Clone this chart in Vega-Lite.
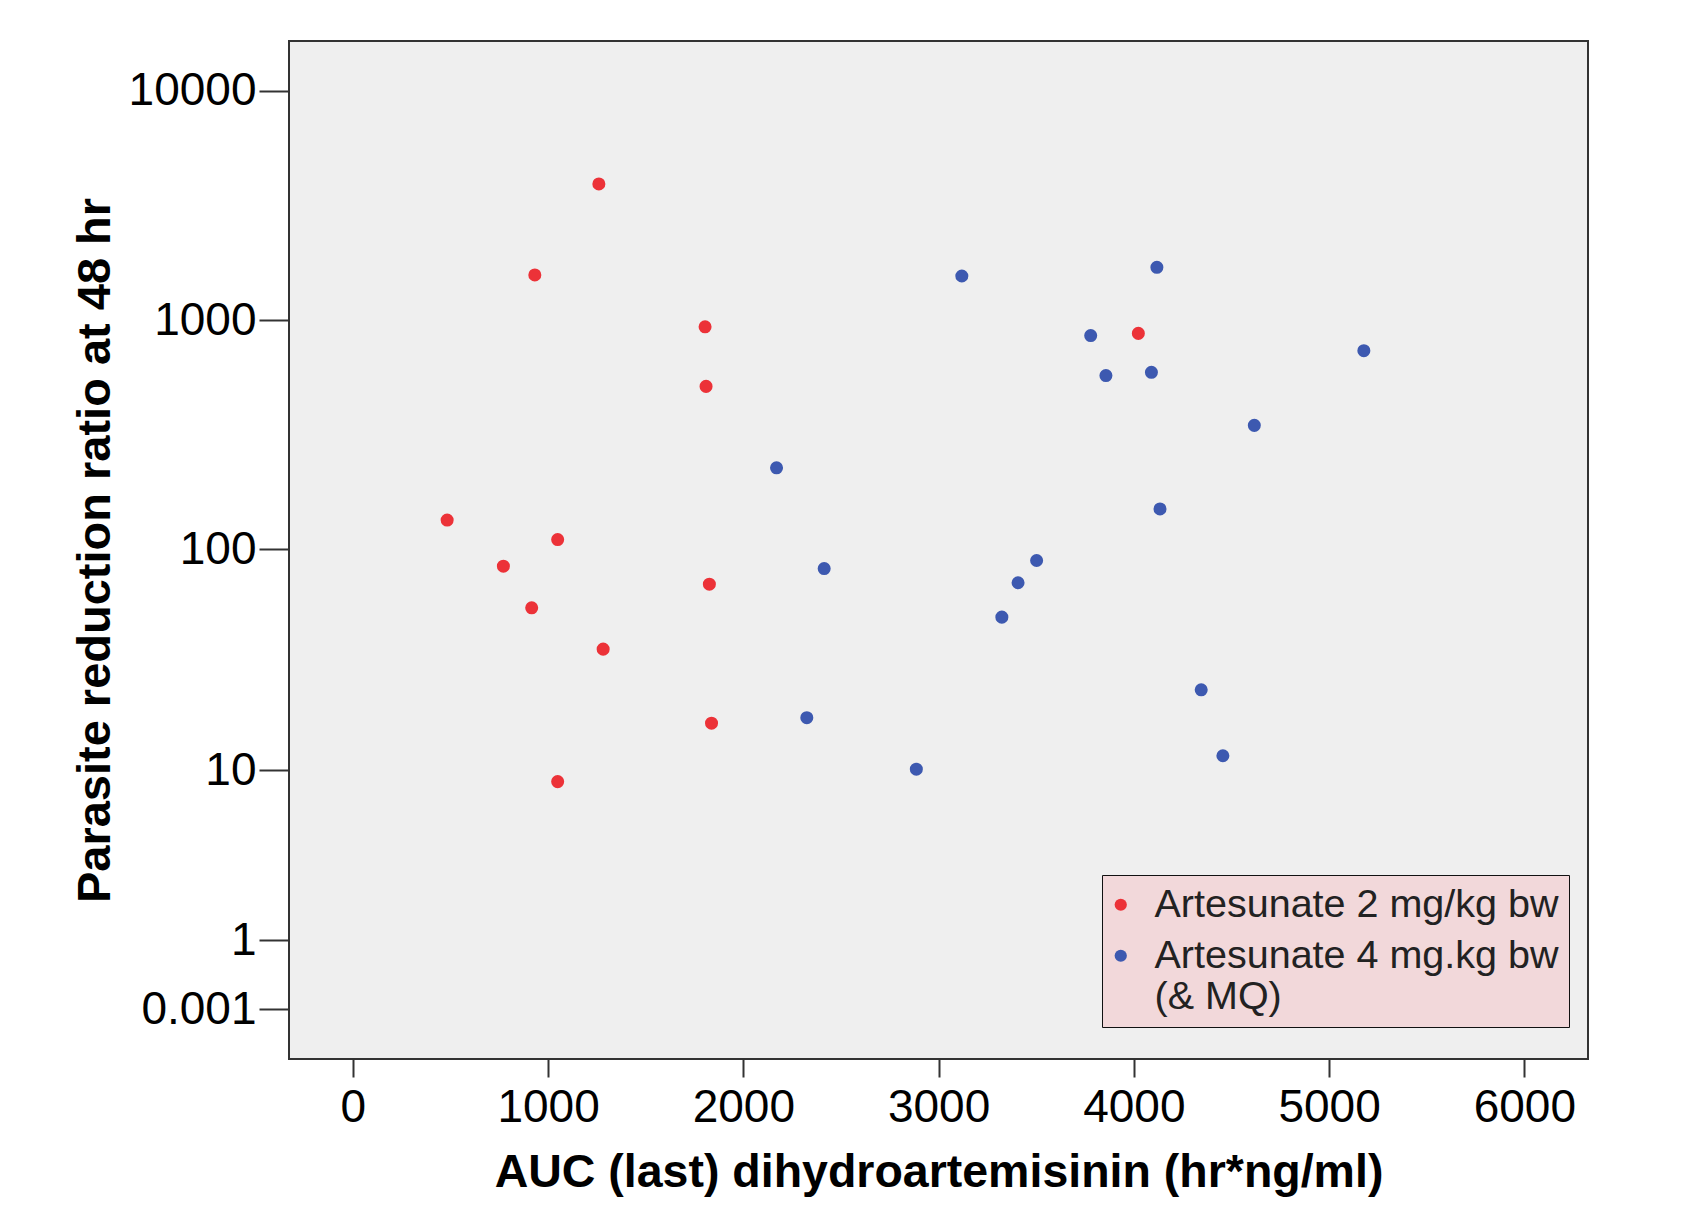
{
  "$schema": "https://vega.github.io/schema/vega-lite/v6.json",
  "width": 1299,
  "height": 1018,
  "autosize": {"type": "none"},
  "padding": {"left": 289, "top": 41, "right": 110, "bottom": 164},
  "background": "white",
  "config": {
    "view": {"fill": "#efefef", "stroke": "#333333", "strokeWidth": 2},
    "font": "Liberation Sans"
  },
  "data": {
    "values": [
      {"auc": 1260, "prr": 3930, "group": "Artesunate 2 mg/kg bw"},
      {"auc": 932, "prr": 1577, "group": "Artesunate 2 mg/kg bw"},
      {"auc": 1804, "prr": 937, "group": "Artesunate 2 mg/kg bw"},
      {"auc": 1809, "prr": 515, "group": "Artesunate 2 mg/kg bw"},
      {"auc": 483, "prr": 134, "group": "Artesunate 2 mg/kg bw"},
      {"auc": 1049, "prr": 110, "group": "Artesunate 2 mg/kg bw"},
      {"auc": 771, "prr": 84, "group": "Artesunate 2 mg/kg bw"},
      {"auc": 1826, "prr": 70, "group": "Artesunate 2 mg/kg bw"},
      {"auc": 916, "prr": 55, "group": "Artesunate 2 mg/kg bw"},
      {"auc": 1282, "prr": 36, "group": "Artesunate 2 mg/kg bw"},
      {"auc": 1837, "prr": 16.6, "group": "Artesunate 2 mg/kg bw"},
      {"auc": 1049, "prr": 8.8, "group": "Artesunate 2 mg/kg bw"},
      {"auc": 4023, "prr": 877, "group": "Artesunate 2 mg/kg bw"},
      {"auc": 3119, "prr": 1560, "group": "Artesunate 4 mg.kg bw (& MQ)"},
      {"auc": 4118, "prr": 1702, "group": "Artesunate 4 mg.kg bw (& MQ)"},
      {"auc": 3779, "prr": 858, "group": "Artesunate 4 mg.kg bw (& MQ)"},
      {"auc": 3857, "prr": 574, "group": "Artesunate 4 mg.kg bw (& MQ)"},
      {"auc": 4090, "prr": 593, "group": "Artesunate 4 mg.kg bw (& MQ)"},
      {"auc": 5178, "prr": 737, "group": "Artesunate 4 mg.kg bw (& MQ)"},
      {"auc": 4617, "prr": 348, "group": "Artesunate 4 mg.kg bw (& MQ)"},
      {"auc": 2170, "prr": 227, "group": "Artesunate 4 mg.kg bw (& MQ)"},
      {"auc": 4134, "prr": 150, "group": "Artesunate 4 mg.kg bw (& MQ)"},
      {"auc": 2414, "prr": 82, "group": "Artesunate 4 mg.kg bw (& MQ)"},
      {"auc": 3502, "prr": 89, "group": "Artesunate 4 mg.kg bw (& MQ)"},
      {"auc": 3407, "prr": 71, "group": "Artesunate 4 mg.kg bw (& MQ)"},
      {"auc": 3324, "prr": 50, "group": "Artesunate 4 mg.kg bw (& MQ)"},
      {"auc": 4345, "prr": 23.6, "group": "Artesunate 4 mg.kg bw (& MQ)"},
      {"auc": 2325, "prr": 17.6, "group": "Artesunate 4 mg.kg bw (& MQ)"},
      {"auc": 2886, "prr": 10.1, "group": "Artesunate 4 mg.kg bw (& MQ)"},
      {"auc": 4456, "prr": 11.7, "group": "Artesunate 4 mg.kg bw (& MQ)"}
    ]
  },
  "mark": {"type": "point", "filled": true, "shape": "circle", "size": 170, "opacity": 1},
  "encoding": {
    "x": {
      "field": "auc",
      "type": "quantitative",
      "scale": {"domain": [-327, 6326], "nice": false, "zero": false},
      "axis": {
        "title": "AUC (last) dihydroartemisinin (hr*ng/ml)",
        "values": [0, 1000, 2000, 3000, 4000, 5000, 6000],
        "format": "d",
        "grid": false,
        "domain": false,
        "tickSize": 18,
        "tickWidth": 2,
        "tickColor": "#333333",
        "labelFontSize": 46,
        "labelColor": "#000000",
        "labelPadding": 8,
        "titleFontSize": 46.5,
        "titleFontWeight": "bold",
        "titleColor": "#000000",
        "titlePadding": 19
      }
    },
    "y": {
      "field": "prr",
      "type": "quantitative",
      "scale": {"type": "symlog", "constant": 1, "domain": [-0.648, 16480], "nice": false, "zero": false},
      "axis": {
        "title": "Parasite reduction ratio at 48 hr",
        "values": [0.001, 1, 10, 100, 1000, 10000],
        "format": "~r",
        "grid": false,
        "domain": false,
        "tickSize": 30,
        "tickWidth": 2,
        "tickColor": "#333333",
        "labelFontSize": 46,
        "labelColor": "#000000",
        "labelPadding": 3,
        "titleFontSize": 47,
        "titleFontWeight": "bold",
        "titleColor": "#000000",
        "titlePadding": 9
      }
    },
    "color": {
      "field": "group",
      "type": "nominal",
      "scale": {"domain": ["Artesunate 2 mg/kg bw", "Artesunate 4 mg.kg bw (& MQ)"], "range": ["#ec3238", "#3d59b0"]},
      "legend": {
        "title": null,
        "orient": "none",
        "legendX": 813,
        "legendY": 834,
        "fillColor": "#f2d8da",
        "strokeColor": "#111111",
        "padding": 10,
        "symbolType": "circle",
        "symbolSize": 150,
        "symbolOffset": -11,
        "labelOffset": 14,
        "labelFontSize": 39.5,
        "labelColor": "#222222",
        "labelLimit": 600,
        "rowPadding": 10,
        "labelExpr": "datum.value == 'Artesunate 4 mg.kg bw (& MQ)' ? ['Artesunate 4 mg.kg bw', '(& MQ)'] : datum.label",
        "encode": {
          "legend": {"strokeWidth": {"value": 2}},
          "labels": {"dy": {"condition": {"test": "datum.value === 'Artesunate 4 mg.kg bw (& MQ)'", "value": -20}, "value": 0}}
        }
      }
    }
  }
}
